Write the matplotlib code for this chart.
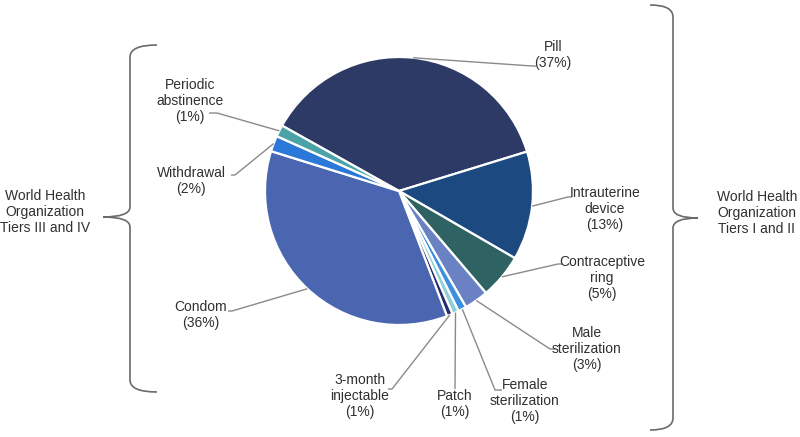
import numpy as np
import matplotlib
matplotlib.use("Agg")
import matplotlib.pyplot as plt
from matplotlib.path import Path
from matplotlib.patches import PathPatch

# ---- data ----
methods = ["Pill", "Intrauterine\ndevice", "Contraceptive\nring", "Male\nsterilization",
           "Female\nsterilization", "Patch", "3-month\ninjectable", "Condom",
           "Withdrawal", "Periodic\nabstinence"]
shares = [37.1, 13.1, 5.4, 2.9, 1.0, 0.8, 0.7, 35.6, 1.9, 1.4]
pct_labels = ["37%", "13%", "5%", "3%", "1%", "1%", "1%", "36%", "2%", "1%"]
colors = ["#2e3a66", "#1c4a80", "#2f6262", "#6a82c4", "#3d8fe0", "#8fd0d8",
          "#252e6c", "#4a66b0", "#2b78d8", "#4aa3a8"]
group_left = "World Health\nOrganization\nTiers III and IV"
group_right = "World Health\nOrganization\nTiers I and II"

plt.rcParams['font.family'] = ['Liberation Sans', 'DejaVu Sans']
W, H = 800, 437
def Y(py):
    return H - py

fig = plt.figure(figsize=(8, 4.37), dpi=100)
ax = fig.add_axes([0, 0, 1, 1])
cx, cy, R = 399, Y(191), 134
wedges, _ = ax.pie(shares, colors=colors, startangle=150.8, counterclock=False,
                   center=(cx, cy), radius=R, frame=True,
                   wedgeprops=dict(edgecolor="white", linewidth=1.6))
ax.set_xlim(0, W)
ax.set_ylim(0, H)
ax.axis("off")

tcol = "#303030"
lcol = "#8a8a8a"
# label layout: (text x, text center y, elbow (x,y), end (x,y), ha)
layout = [
    (553, 55, (532, 66), (536, 66), "center"),
    (605, 209, (568, 197), (572, 197), "center"),
    (602, 278, (558, 264), (562, 264), "center"),
    (587, 349, (550, 349), (555, 349), "center"),
    (525, 401, (495, 390), (502, 390), "center"),
    (455, 404, (455, 389), (455, 389), "center"),
    (360, 396, (392, 389), (388, 389), "center"),
    (201, 315, (232, 311), (228, 311), "center"),
    (191, 181, (235, 175), (231, 175), "center"),
    (190, 101, (217, 113), (209, 113), "center"),
]
for w, name, pct, (tx, ty, elb, end, ha) in zip(wedges, methods, pct_labels, layout):
    ang = np.deg2rad((w.theta1 + w.theta2) / 2)
    sx = cx + R * np.cos(ang)
    sy = cy + R * np.sin(ang)
    ax.plot([sx, elb[0], end[0]], [sy, Y(elb[1]), Y(end[1])], color=lcol, lw=1.0,
            solid_capstyle="butt")
    ax.text(tx, Y(ty), f"{name}\n({pct})", ha=ha, va="center", fontsize=10,
            color=tcol, linespacing=1.15)

# braces
def brace(points_codes):
    verts = [(x, Y(y)) for x, y in points_codes[0]]
    return PathPatch(Path(verts, points_codes[1]), fill=False, edgecolor="#6a6a6a", lw=1.2)

M, L, C3 = Path.MOVETO, Path.LINETO, Path.CURVE3
left = ([(157, 45), (130, 45), (130, 57), (130, 207), (130, 217), (103, 217),
         (130, 217), (130, 227), (130, 380), (130, 392), (157, 392)],
        [M, C3, C3, L, C3, C3, C3, C3, L, C3, C3])
right = ([(650, 5), (673, 5), (673, 17), (673, 208), (673, 218), (698, 218),
          (673, 218), (673, 228), (673, 418), (673, 430), (650, 430)],
         [M, C3, C3, L, C3, C3, C3, C3, L, C3, C3])
ax.add_patch(brace(left))
ax.add_patch(brace(right))

ax.text(45, Y(212), group_left, ha="center", va="center", fontsize=10, color=tcol,
        linespacing=1.15)
ax.text(757, Y(213), group_right, ha="center", va="center", fontsize=10, color=tcol,
        linespacing=1.15)

fig.savefig("out.png", dpi=100)
